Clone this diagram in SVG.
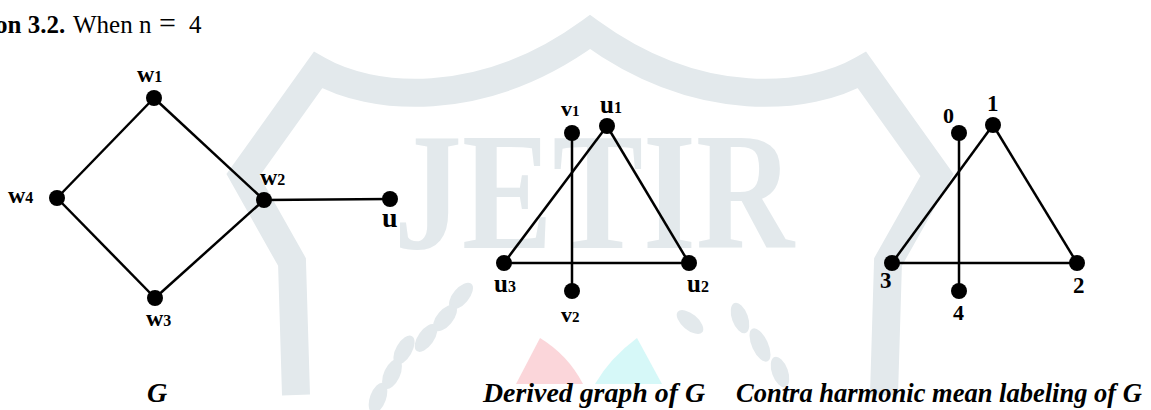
<svg xmlns="http://www.w3.org/2000/svg" width="1151" height="410" viewBox="0 0 1151 410">
<style>
.wm{fill:#e3e9ec;stroke:none}
.wms{fill:none;stroke:#e3e9ec;stroke-width:28;stroke-linejoin:miter}
.e{stroke:#000;stroke-width:2.5;fill:none}
.n{fill:#000}
.lb{font-family:"Liberation Serif","Times New Roman",serif;font-weight:bold;fill:#000}
.cap{font-family:"Liberation Serif","Times New Roman",serif;font-weight:bold;font-style:italic;font-size:28px;fill:#000}
.hd{font-family:"Liberation Serif","Times New Roman",serif;font-size:25px;fill:#000}
</style>
<rect width="1151" height="410" fill="#fff"/>
<g id="watermark">
<path class="wms" d="M296,395 L292,262 L243,175 L318,70 C370,100 480,112 590,32 C700,112 810,100 862,70 L937,175 L888,262 L884,395"/>
<text x="394" y="248" class="wm" font-family="Liberation Serif,serif" font-weight="bold" font-size="168" textLength="400" lengthAdjust="spacingAndGlyphs">JETIR</text>
<path d="M540,338 L516,384 L583,384 Q568,355 540,338 Z" fill="#fbd6da"/>
<path d="M637,338 Q610,358 595,384 L662,384 Z" fill="#d6f8f8"/>
<g class="wm">
<ellipse cx="461" cy="296" rx="8" ry="16" transform="rotate(40 461 296)"/>
<ellipse cx="445" cy="318" rx="8" ry="16" transform="rotate(40 445 318)"/>
<ellipse cx="426" cy="338" rx="8" ry="16" transform="rotate(35 426 338)"/>
<ellipse cx="404" cy="350" rx="8" ry="16" transform="rotate(30 404 350)"/>
<ellipse cx="392" cy="374" rx="8" ry="16" transform="rotate(25 392 374)"/>
<ellipse cx="378" cy="398" rx="8" ry="16" transform="rotate(20 378 398)"/>
<ellipse cx="690" cy="322" rx="8" ry="16" transform="rotate(-50 690 322)"/>
<ellipse cx="740" cy="318" rx="8" ry="16" transform="rotate(-20 740 318)"/>
<ellipse cx="760" cy="345" rx="8" ry="18" transform="rotate(-25 760 345)"/>
<ellipse cx="780" cy="372" rx="8" ry="16" transform="rotate(-20 780 372)"/>
</g>
</g>
<g id="heading">
<text class="hd" y="33"><tspan x="-5" font-weight="bold">on 3.2.</tspan><tspan x="73">When</tspan><tspan x="139">n</tspan><tspan x="159" font-size="30">=</tspan><tspan x="189">4</tspan></text>
</g>
<g id="connectors">
<line class="e" x1="154" y1="98" x2="57" y2="198"/>
<line class="e" x1="154" y1="98" x2="264" y2="200"/>
<line class="e" x1="57" y1="198" x2="155" y2="298"/>
<line class="e" x1="155" y1="298" x2="264" y2="200"/>
<line class="e" x1="264" y1="200" x2="390" y2="199"/>
<line class="e" x1="607" y1="126" x2="504" y2="263"/>
<line class="e" x1="607" y1="126" x2="689" y2="263"/>
<line class="e" x1="504" y1="263" x2="689" y2="263"/>
<line class="e" x1="572" y1="133" x2="572" y2="291"/>
<line class="e" x1="993" y1="125" x2="892" y2="263"/>
<line class="e" x1="993" y1="125" x2="1077" y2="263"/>
<line class="e" x1="892" y1="263" x2="1077" y2="263"/>
<line class="e" x1="959" y1="133" x2="959" y2="291"/>
</g>
<g id="node-w1"><circle class="n" cx="154" cy="98" r="8"/><text class="lb" x="137" y="82" font-size="24">w<tspan font-size="16">1</tspan></text></g>
<g id="node-w2"><circle class="n" cx="264" cy="200" r="8"/><text class="lb" x="260" y="185" font-size="24">w<tspan font-size="16">2</tspan></text></g>
<g id="node-w3"><circle class="n" cx="155" cy="298" r="8"/><text class="lb" x="146" y="326" font-size="24">w<tspan font-size="16">3</tspan></text></g>
<g id="node-w4"><circle class="n" cx="57" cy="198" r="8"/><text class="lb" x="8" y="203" font-size="24">w<tspan font-size="16">4</tspan></text></g>
<g id="node-u"><circle class="n" cx="390" cy="199" r="8"/><text class="lb" x="382" y="227" font-size="28">u</text></g>
<g id="node-v1"><circle class="n" cx="572" cy="133" r="8"/><text class="lb" x="561" y="116" font-size="22">v<tspan font-size="15">1</tspan></text></g>
<g id="node-u1"><circle class="n" cx="607" cy="126" r="8"/><text class="lb" x="600" y="113" font-size="25">u<tspan font-size="16">1</tspan></text></g>
<g id="node-u2"><circle class="n" cx="689" cy="263" r="8"/><text class="lb" x="687" y="292" font-size="25">u<tspan font-size="16">2</tspan></text></g>
<g id="node-u3"><circle class="n" cx="504" cy="263" r="8"/><text class="lb" x="494" y="292" font-size="25">u<tspan font-size="16">3</tspan></text></g>
<g id="node-v2"><circle class="n" cx="572" cy="291" r="8"/><text class="lb" x="561" y="322" font-size="22">v<tspan font-size="15">2</tspan></text></g>
<g id="node-0"><circle class="n" cx="959" cy="133" r="8"/><text class="lb" x="943" y="123" font-size="22">0</text></g>
<g id="node-1"><circle class="n" cx="993" cy="125" r="8"/><text class="lb" x="987" y="111" font-size="23">1</text></g>
<g id="node-2"><circle class="n" cx="1077" cy="263" r="8"/><text class="lb" x="1073" y="293" font-size="23">2</text></g>
<g id="node-3"><circle class="n" cx="892" cy="263" r="8"/><text class="lb" x="880" y="288" font-size="23">3</text></g>
<g id="node-4"><circle class="n" cx="959" cy="291" r="8"/><text class="lb" x="953" y="320" font-size="22">4</text></g>
<g id="captions">
<text class="cap" x="147" y="402">G</text>
<text class="cap" x="483" y="402" textLength="222" lengthAdjust="spacingAndGlyphs">Derived graph of G</text>
<text class="cap" x="736" y="402" textLength="406" lengthAdjust="spacingAndGlyphs">Contra harmonic mean labeling of G</text>
</g>
</svg>
